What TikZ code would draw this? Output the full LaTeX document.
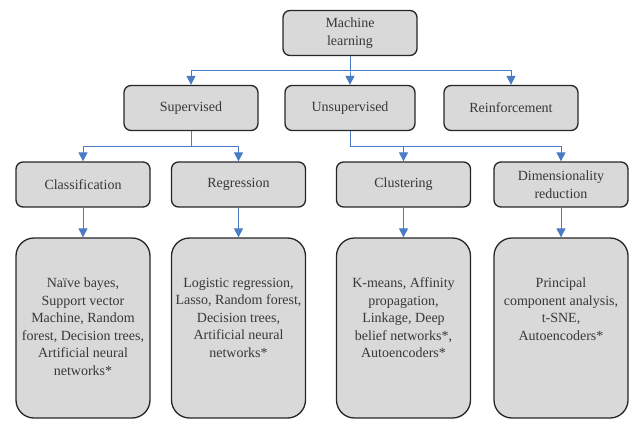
\documentclass[tikz,border=0pt]{standalone}
\usepackage{fontspec}
\setmainfont{Liberation Serif}
\usetikzlibrary{arrows.meta}
\definecolor{boxGray}{HTML}{D9D9D9}
\definecolor{lineBlue}{HTML}{4A7CC4}
\definecolor{textGray}{HTML}{383838}

\tikzset{
  catBox/.style={draw=black!85, line width=1.3pt, fill=boxGray, rounded corners=7pt,
    align=center, text=textGray, inner sep=0pt,
    font=\fontsize{14}{17.5}\selectfont},
  leafBox/.style={catBox, rounded corners=18pt},
  link/.style={draw=lineBlue, line width=1pt, -{Triangle[length=9pt,width=9pt]}}
}

\begin{document}
\begin{tikzpicture}[x=1pt,y=-1pt]
  \def\bw{134} % box width
  \def\bh{45}  % box height
  \def\lh{180} % leaf height
  \def\leafText#1{\parbox[c][\lh pt][t]{134pt}{\centering\vspace*{40pt}#1}}

  \useasboundingbox (0,0) rectangle (643,432);

  % root and first level
  \node[catBox, minimum width=\bw, minimum height=\bh] (ml) at (350,33) {Machine\\learning};
  \node[catBox, minimum width=\bw, minimum height=\bh] (sup) at (191,108) {Supervised};
  \node[catBox, minimum width=130, minimum height=\bh] (unsup) at (350,108) {Unsupervised};
  \node[catBox, minimum width=\bw, minimum height=\bh] (rein) at (511,108) {Reinforcement};

  % second level
  \node[catBox, minimum width=\bw, minimum height=\bh] (cls) at (83,184.5) {Classification};
  \node[catBox, minimum width=\bw, minimum height=\bh] (reg) at (238.5,184.5) {Regression};
  \node[catBox, minimum width=\bw, minimum height=\bh] (clu) at (403.5,184.5) {Clustering};
  \node[catBox, minimum width=\bw, minimum height=\bh] (dim) at (561,184.5) {Dimensionality\\reduction};

  % leaves
  \node[leafBox, minimum width=\bw, minimum height=\lh] (clsLeaf) at (83,328)
    {\leafText{Na\"ive bayes,\\Support vector\\Machine, Random\\forest, Decision trees,\\Artificial neural\\networks*}};
  \node[leafBox, minimum width=\bw, minimum height=\lh] (regLeaf) at (238.5,328)
    {\leafText{Logistic regression,\\Lasso, Random forest,\\Decision trees,\\Artificial neural\\networks*}};
  \node[leafBox, minimum width=\bw, minimum height=\lh] (cluLeaf) at (403.5,328)
    {\leafText{K-means, Affinity\\propagation,\\Linkage, Deep\\belief networks*,\\Autoencoders*}};
  \node[leafBox, minimum width=\bw, minimum height=\lh] (dimLeaf) at (561,328)
    {\leafText{Principal\\component analysis,\\t-SNE,\\Autoencoders*}};

  % bus points
  \coordinate (mlBus) at (350,70);
  \coordinate (supBus) at (191,146);
  \coordinate (unsupBus) at (350,146);

  % connectors
  \foreach \child in {sup,unsup,rein}
    \draw[link] (ml.south) -- (mlBus) -| (\child.north);
  \foreach \child in {cls,reg}
    \draw[link] (sup.south) -- (supBus) -| (\child.north);
  \foreach \child in {clu,dim}
    \draw[link] (unsup.south) -- (unsupBus) -| (\child.north);
  \foreach \lvl in {cls,reg,clu,dim}
    \draw[link] (\lvl.south) -- (\lvl Leaf.north);
\end{tikzpicture}
\end{document}
